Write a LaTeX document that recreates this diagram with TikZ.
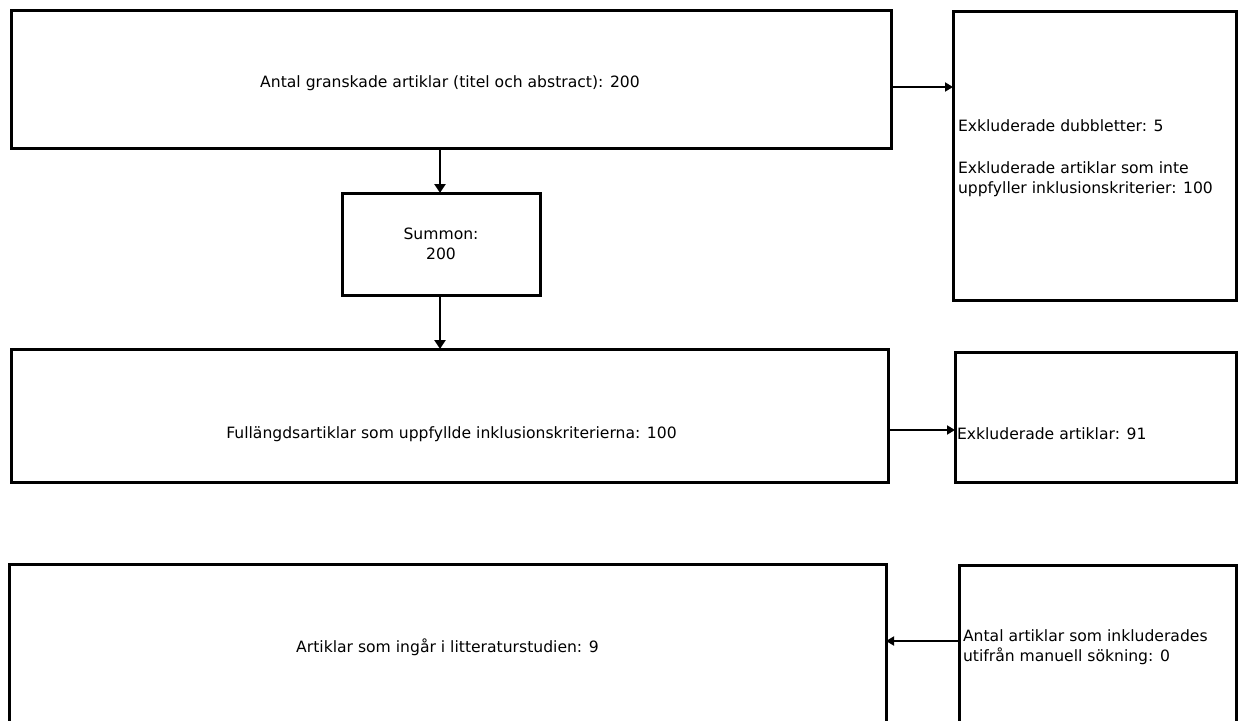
\documentclass[tikz,border=0pt]{standalone}
\usepackage{fontspec}
\setmainfont{DejaVu Sans}
\usetikzlibrary{arrows.meta}
\begin{document}
\begin{tikzpicture}[x=1pt,y=-1pt,
  box/.style={draw=black, line width=3pt, fill=white, inner sep=0pt, outer sep=0pt},
  txt/.style={inner sep=0pt, outer sep=0pt, font=\fontsize{15.6pt}{20pt}\selectfont},
  varr/.style={draw=black, line width=2.6pt, -{Triangle[length=9pt,width=11pt]}},
  harr/.style={draw=black, line width=1.8pt, -{Triangle[length=8pt,width=9pt]}}]
\useasboundingbox (0,0) rectangle (1239,720);
\clip (0,0) rectangle (1239,720);
% boxes
\node[box, minimum width=880pt, minimum height=138pt] (b1) at (451,79) {};
\node[box, minimum width=283pt, minimum height=289pt] (r1) at (1094.5,155.5) {};
\node[box, minimum width=198pt, minimum height=102pt, txt, align=center] (s) at (441,244) {Summon:\\200};
\node[box, minimum width=877pt, minimum height=133pt] (b3) at (449.5,415.5) {};
\node[box, minimum width=281pt, minimum height=130pt] (r2) at (1095.5,417) {};
\node[box, minimum width=877pt, minimum height=206pt] (b4) at (447.5,667) {};
\node[box, minimum width=277pt, minimum height=205pt] (r3) at (1097.5,667.5) {};
% texts
\node[txt, anchor=base] (t1) at (450,87) {Antal granskade artiklar (titel och abstract): 200};
\node[txt, anchor=west, align=left] (tr1) at (958,158) {Exkluderade dubbletter: 5\\[22pt]Exkluderade artiklar som inte\\uppfyller inklusionskriterier: 100};
\node[txt, anchor=base] (t3) at (451.5,438) {Fullängdsartiklar som uppfyllde inklusionskriterierna: 100};
\node[txt, anchor=base west] (tr2) at (957,439) {Exkluderade artiklar: 91};
\node[txt, anchor=base] (t4) at (447.5,652) {Artiklar som ingår i litteraturstudien: 9};
\node[txt, anchor=west, align=left] (tr3) at (963,647.5) {Antal artiklar som inkluderades\\utifrån manuell sökning: 0};
% connectors
\coordinate (ya) at (0,87);
\coordinate (yb) at (0,430);
\coordinate (yc) at (0,641);
\coordinate (xc) at (440,0);
\draw[harr] (b1.east |- ya) -- (r1.west |- ya);
\draw[varr] (b1.south -| xc) -- (s.north -| xc);
\draw[varr] (s.south -| xc) -- (b3.north -| xc);
\draw[harr] (b3.east |- yb) -- (r2.west |- yb);
\draw[harr] (r3.west |- yc) -- (b4.east |- yc);
\end{tikzpicture}
\end{document}
